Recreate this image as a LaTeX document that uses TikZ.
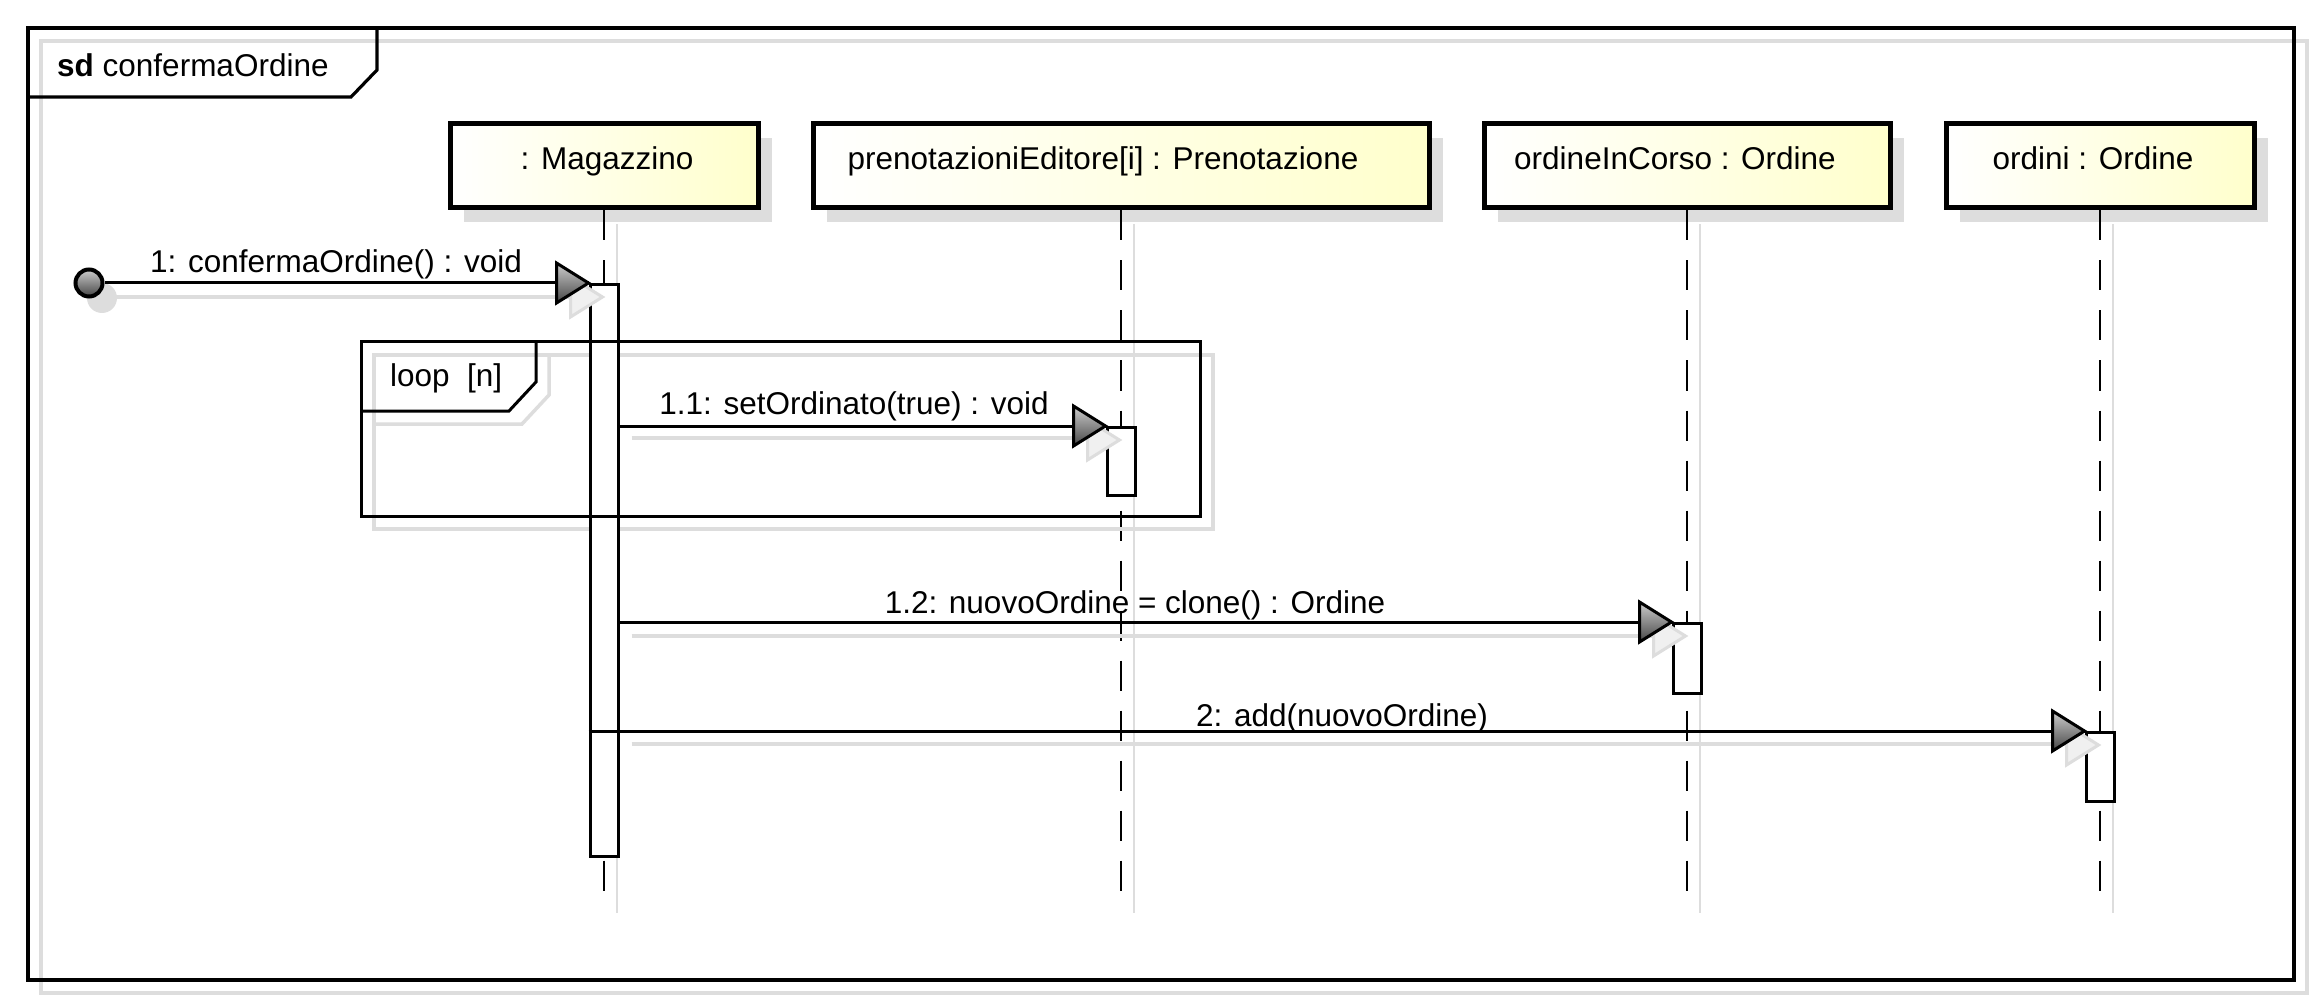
\documentclass[tikz,border=0pt]{standalone}
\usepackage{fontspec}
\setmainfont{Liberation Sans}
\usetikzlibrary{calc}
\definecolor{shgray}{RGB}{221,221,221}
\definecolor{headyellow}{RGB}{255,255,204}
\definecolor{tipLight}{RGB}{205,205,205}
\definecolor{tipDark}{RGB}{70,70,70}
\newcommand\umlTip[1]{%
  \path[draw=shgray,fill=shgray!45,line width=3pt,line join=miter] ($(#1)+(14,14)$) -- ++(-32,-20) -- ++(0,40) -- cycle;
  \path[draw=black,line width=3pt,top color=tipLight,bottom color=tipDark,line join=miter] (#1) -- ++(-32,-20) -- ++(0,40) -- cycle;}
\begin{document}
\begin{tikzpicture}[x=1pt,y=-1pt,
  every node/.style={font=\fontsize{31.5}{38}\selectfont, inner sep=0pt},
  blk/.style={draw=black,line width=3.2pt},
  shd/.style={draw=shgray,line width=3.5pt},
  headbox/.style={draw=black,line width=5pt,left color=white,right color=headyellow,minimum height=84pt,text height=24pt,text depth=16pt},
  lifeline/.style={draw=black,line width=2.5pt,dash pattern=on 30pt off 20pt},
  lifeshd/.style={draw=shgray,line width=2.5pt},
  actbox/.style={draw=black,line width=3pt,fill=white,minimum width=28pt,anchor=north},
  msg/.style={draw=black,line width=3pt},
  msglabel/.style={anchor=base}]

\fill[white] (0,0) rectangle (2322,1008);
\useasboundingbox (0,0) rectangle (2322,1008);

% diagram frame
\draw[shd] (41,41) rectangle (2307,993);
\draw[blk] (28,28) rectangle (2294,980);
\draw[blk] (377,28) -- (377,70) -- (351,97) -- (28,97);
\node[anchor=base west] (sd) at (57,77) {\textbf{sd} confermaOrdine};

% head shadows
\fill[shgray] (464,138) rectangle (772,222);
\fill[shgray] (827,138) rectangle (1443,222);
\fill[shgray] (1498,138) rectangle (1904,222);
\fill[shgray] (1960,138) rectangle (2268,222);

% lifeline heads
\node[headbox,minimum width=308pt] (mag) at (604,166) {\hspace*{6pt}: Magazzino};
\node[headbox,minimum width=616pt] (pren) at (1121,166) {\hspace*{-36pt}prenotazioniEditore[i] : Prenotazione};
\node[headbox,minimum width=406pt] (oic) at (1687,166) {\hspace*{-24pt}ordineInCorso : Ordine};
\node[headbox,minimum width=308pt] (ord) at (2100,166) {\hspace*{-14pt}ordini : Ordine};

% lifeline ends
\coordinate (magEnd) at (604,893);
\coordinate (prenEnd) at (1121,893);
\coordinate (oicEnd) at (1687,893);
\coordinate (ordEnd) at (2100,893);

\foreach \n/\e in {mag/magEnd,pren/prenEnd,oic/oicEnd,ord/ordEnd}{
  \draw[lifeshd] ($(\n.south)+(13,14)$) -- ($(\e)+(13,20)$);
  \draw[lifeline] (\n.south) -- (\e);
}

% loop shadow
\draw[shd] (374,355) rectangle (1213,529);
\draw[shd] (549,355) -- (549,395) -- (522,424) -- (374,424);

% activations
\node[actbox,minimum height=572pt] (actM) at (604,283) {};
\node[actbox,minimum height=68pt] (actP) at (1121,426) {};
\node[actbox,minimum height=70pt] (actO) at (1687,622) {};
\node[actbox,minimum height=69pt] (actR) at (2100,731) {};

% loop fragment
\draw[draw=black,line width=3pt] (361,342) rectangle (1200,516);
\draw[draw=black,line width=3pt] (536,342) -- (536,382) -- (509,411) -- (361,411);
\node[anchor=base west] (loopLbl) at (390,387) {loop\ \ [n]};

% found message start
\fill[shgray] (102,298) circle (15pt);
\node[circle,draw=black,line width=4pt,minimum size=27pt,top color=tipLight,bottom color=tipDark] (found) at (89,283) {};

% message 1
\draw[shd] ($(found)+(13,14)$) -- ($(actM.north west)+(-18,14)$);
\draw[msg] (found) -- (actM.north west);
\umlTip{actM.north west}
\node[msglabel] (m1) at (336,273) {1: confermaOrdine() : void};

% message 1.1
\coordinate (s11) at (actM.east |- actP.north);
\draw[shd] ($(s11)+(12,12)$) -- ($(actP.north west)+(-18,12)$);
\draw[msg] (s11) -- (actP.north west);
\umlTip{actP.north west}
\node[msglabel] (m11) at (854,414) {1.1: setOrdinato(true) : void};

% message 1.2
\coordinate (s12) at (actM.east |- actO.north);
\draw[shd] ($(s12)+(12,14)$) -- ($(actO.north west)+(-18,14)$);
\draw[msg] (s12) -- (actO.north west);
\umlTip{actO.north west}
\node[msglabel] (m12) at (1135,613) {1.2: nuovoOrdine = clone() : Ordine};

% message 2
\coordinate (s2) at (actM.west |- actR.north);
\coordinate (s2s) at (actM.east |- actR.north);
\draw[shd] ($(s2s)+(12,13)$) -- ($(actR.north west)+(-18,13)$);
\draw[msg] (s2) -- (actR.north west);
\umlTip{actR.north west}
\node[msglabel] (m2) at (1342,726) {2: add(nuovoOrdine)};

\end{tikzpicture}
\end{document}
